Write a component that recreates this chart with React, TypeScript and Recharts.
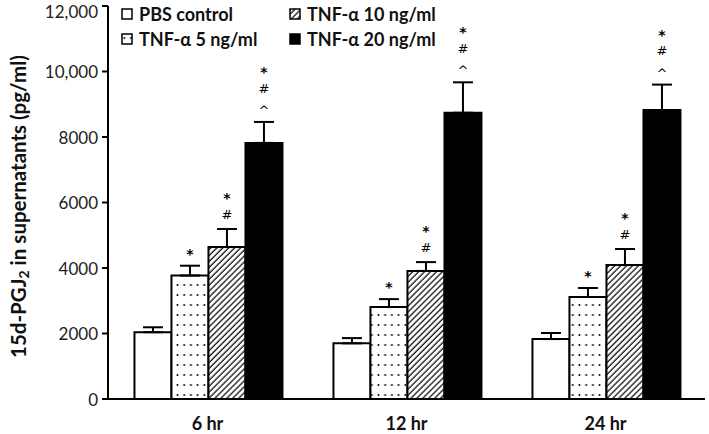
import { BarChart, Bar, XAxis, YAxis, ErrorBar, LabelList } from 'recharts'

const times = ['6 hr', '12 hr', '24 hr']

const pbs = [2040, 1700, 1830]
const pbsErr = [150, 160, 185]
const tnf5 = [3770, 2810, 3115]
const tnf5Err = [300, 240, 275]
const tnf10 = [4640, 3910, 4090]
const tnf10Err = [550, 270, 490]
const tnf20 = [7820, 8740, 8825]
const tnf20Err = [640, 930, 775]

const tnf5Sig = [['*'], ['*'], ['*']]
const tnf10Sig = [['*', '#'], ['*', '#'], ['*', '#']]
const tnf20Sig = [['*', '#', '^'], ['*', '#', '^'], ['*', '#', '^']]

const yTicks = [0, 2000, 4000, 6000, 8000, 10000, 12000]

const FONT = 'Lato, "Open Sans", sans-serif'

const data = times.map((time, i) => ({
  time,
  pbs: pbs[i],
  pbsErr: [0, pbsErr[i]],
  tnf5: tnf5[i],
  tnf5Err: [0, tnf5Err[i]],
  tnf10: tnf10[i],
  tnf10Err: [0, tnf10Err[i]],
  tnf20: tnf20[i],
  tnf20Err: [0, tnf20Err[i]],
}))

const series = [
  { key: 'pbs', name: 'PBS control', fill: '#fff', values: pbs, err: pbsErr, sig: null },
  { key: 'tnf5', name: 'TNF-α 5 ng/ml', fill: 'url(#dots)', values: tnf5, err: tnf5Err, sig: tnf5Sig },
  { key: 'tnf10', name: 'TNF-α 10 ng/ml', fill: 'url(#hatch)', values: tnf10, err: tnf10Err, sig: tnf10Sig },
  { key: 'tnf20', name: 'TNF-α 20 ng/ml', fill: '#000', values: tnf20, err: tnf20Err, sig: tnf20Sig },
]

// glyph centre sits this far above the baseline
const markShift: Record<string, number> = { '*': 8, '#': 4.7, '^': 8 }

// stacked significance marks above the error bar cap
function sigLabel(values: number[], err: number[], sig: string[][]) {
  return (props: any) => {
    const { x, y, width, height, index } = props
    const marks = sig[index]
    if (!marks) return null
    const errPx = (err[index] * Number(height)) / values[index]
    const top = Number(y) - errPx
    const cx = Number(x) + Number(width) / 2
    return (
      <g>
        {marks.map((m, j) => {
          const star = m === '*'
          const centre = top - 15 - (marks.length - 1 - j) * 19
          return (
            <text
              key={j}
              x={cx}
              y={centre + markShift[m]}
              textAnchor="middle"
              fontSize={star ? 14 : 13}
              fontWeight={star ? 'bold' : 'normal'}
              fontFamily='"DejaVu Sans", sans-serif'
              fill="#000"
            >
              {m}
            </text>
          )
        })}
      </g>
    )
  }
}

function YTick(props: any) {
  const { x, y, payload } = props
  const v = payload.value as number
  return (
    <text
      x={x}
      y={Math.max(Number(y), 11)}
      textAnchor="end"
      dominantBaseline="central"
      fontSize={17}
      fontFamily={FONT}
      fill="#222"
    >
      {v >= 10000 ? v.toLocaleString('en-US') : String(v)}
    </text>
  )
}

function YLabel(props: any) {
  const { viewBox } = props
  const cy = viewBox.y + viewBox.height / 2 + 4
  const cx = 18
  return (
    <text
      x={cx}
      y={cy}
      transform={`rotate(-90 ${cx} ${cy})`}
      textAnchor="middle"
      dominantBaseline="central"
      fontSize={20.5}
      fontWeight="bold"
      fontFamily={FONT}
      fill="#111"
    >
      15d-PGJ
      <tspan fontSize={14} dy={5}>2</tspan>
      <tspan dy={-5}> in supernatants (pg/ml)</tspan>
    </text>
  )
}

function LegendItem({ fill, name }: { fill: string; name: string }) {
  return (
    <div style={{ display: 'flex', alignItems: 'center', height: 25 }}>
      <svg width={12} height={12} style={{ marginRight: 6 }}>
        <rect x={1} y={1} width={10} height={10} fill={fill} stroke="#000" strokeWidth={1.5} />
      </svg>
      <span>{name}</span>
    </div>
  )
}

export default function App() {
  return (
    <div style={{ position: 'fixed', left: 0, top: 0, width: 709, height: 434, background: '#fff' }}>
      <BarChart
        width={709}
        height={434}
        data={data}
        margin={{ top: 6, right: 4, bottom: 0, left: 0 }}
        barCategoryGap="13.3%"
        barGap={0}
      >
        <defs>
          <pattern id="dots" width={6.7} height={10} patternUnits="userSpaceOnUse">
            <rect width={6.7} height={10} fill="#fff" />
            <circle cx={3.3} cy={5} r={0.95} fill="#000" />
          </pattern>
          <pattern
            id="hatch"
            width={4.2}
            height={4.2}
            patternUnits="userSpaceOnUse"
            patternTransform="rotate(45)"
          >
            <rect width={4.2} height={4.2} fill="#fff" />
            <line x1={1} y1={0} x2={1} y2={4.2} stroke="#000" strokeWidth={1.2} />
          </pattern>
        </defs>
        <XAxis
          xAxisId="edge"
          type="number"
          domain={[0, 3]}
          ticks={[0, 1, 2, 3]}
          tick={false}
          tickSize={6}
          tickLine={{ stroke: '#000', strokeWidth: 2 }}
          axisLine={false}
          height={0}
        />
        <XAxis
          dataKey="time"
          tickLine={false}
          axisLine={{ stroke: '#000', strokeWidth: 2 }}
          tick={{ fill: '#111', fontSize: 18, fontWeight: 'bold', fontFamily: FONT }}
          tickMargin={12}
          height={35}
        />
        <YAxis
          domain={[0, 12000]}
          ticks={yTicks}
          interval={0}
          width={108}
          tickSize={6}
          tickMargin={4}
          axisLine={{ stroke: '#000', strokeWidth: 2 }}
          tickLine={{ stroke: '#000', strokeWidth: 2 }}
          tick={<YTick />}
          label={<YLabel />}
        />
        {series.map((s) => (
          <Bar
            key={s.key}
            dataKey={s.key}
            fill={s.fill}
            stroke="#000"
            strokeWidth={2}
            isAnimationActive={false}
          >
            <ErrorBar dataKey={`${s.key}Err`} width={10} stroke="#000" strokeWidth={2} direction="y" />
            {s.sig && (
              <LabelList dataKey={s.key} content={sigLabel(s.values, s.err, s.sig)} />
            )}
          </Bar>
        ))}
      </BarChart>
      <div
        style={{
          position: 'absolute',
          left: 121,
          top: 1,
          display: 'grid',
          gridTemplateColumns: '168px 200px',
          fontFamily: FONT,
          fontWeight: 'bold',
          fontSize: 18,
          color: '#111',
        }}
      >
        <LegendItem fill={series[0].fill} name={series[0].name} />
        <LegendItem fill={series[2].fill} name={series[2].name} />
        <LegendItem fill={series[1].fill} name={series[1].name} />
        <LegendItem fill={series[3].fill} name={series[3].name} />
      </div>
    </div>
  )
}
